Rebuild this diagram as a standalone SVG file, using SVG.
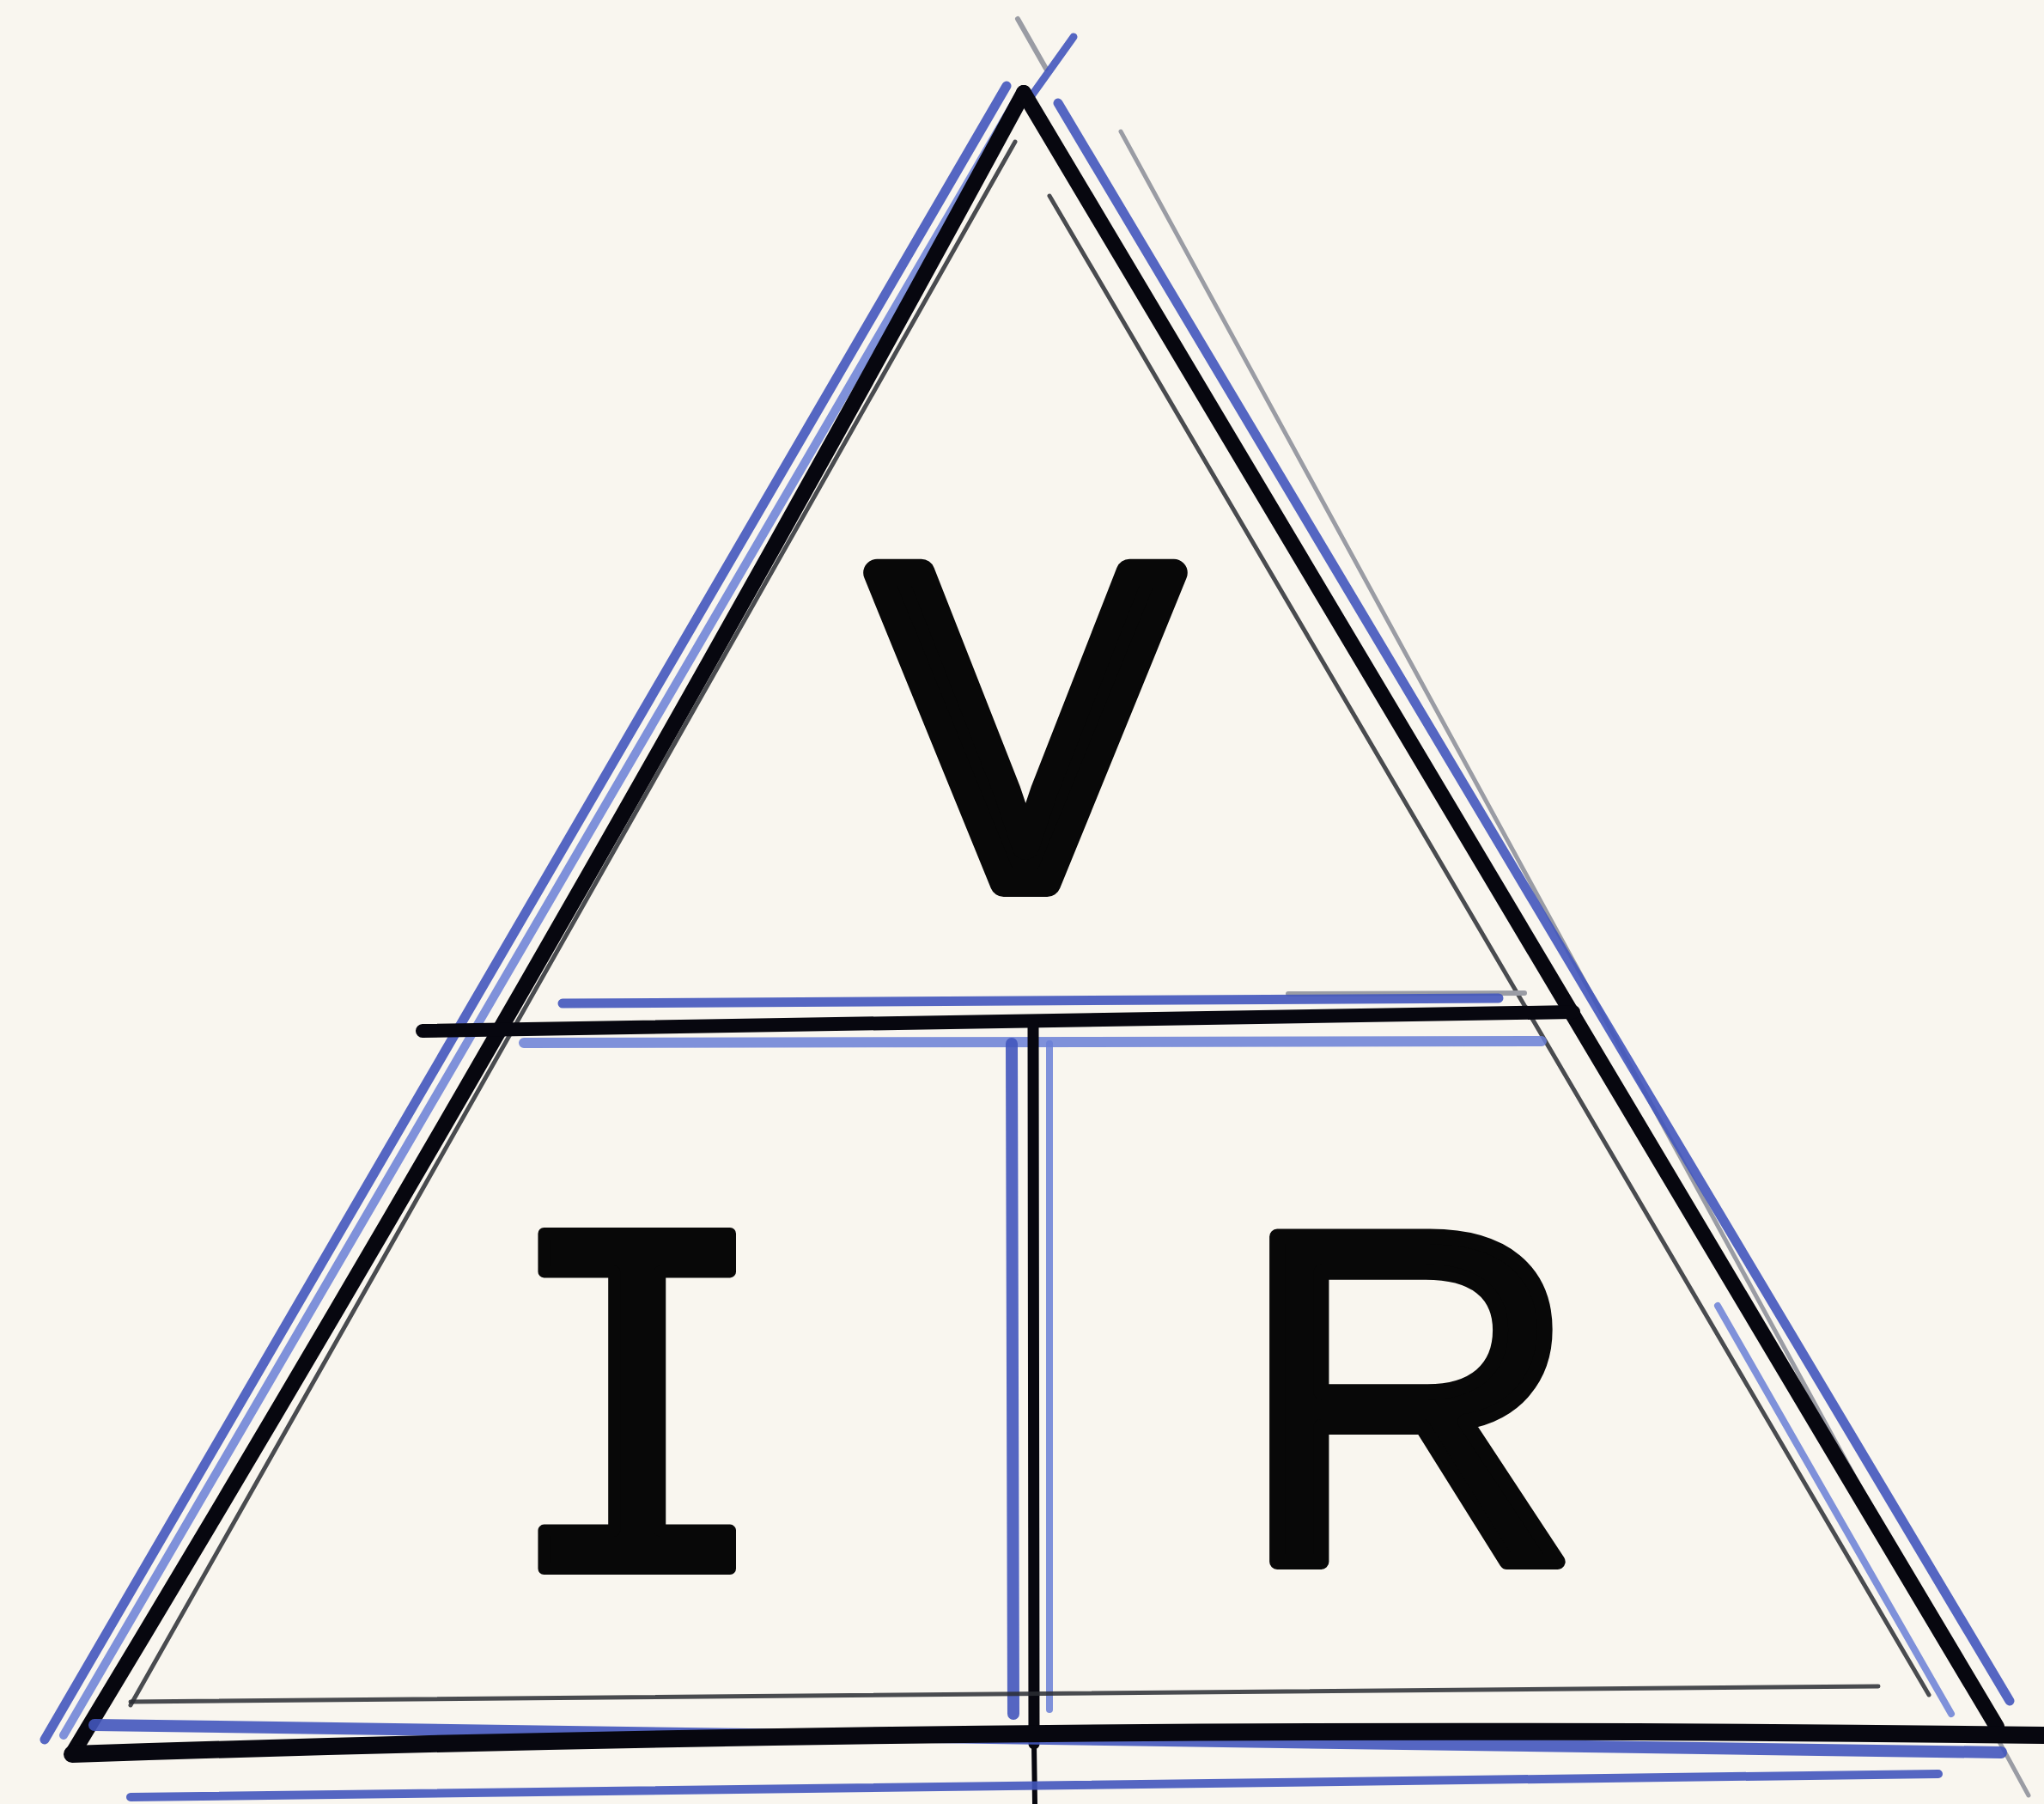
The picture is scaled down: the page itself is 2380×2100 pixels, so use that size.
<svg xmlns="http://www.w3.org/2000/svg" width="2380" height="2100" viewBox="0 0 2380 2100">
<style>
.ink{stroke:#07070f;fill:none;stroke-linecap:round}
.blue{stroke:#4257bd;fill:none;stroke-linecap:round;opacity:0.9}
.blue2{stroke:#6a7fd6;fill:none;stroke-linecap:round;opacity:0.85}
.thin{stroke:#2a2d33;fill:none;stroke-linecap:round;opacity:0.85}
.faint{stroke:#9a9ca4;fill:none;stroke-linecap:round}
.letter{fill:#080808;stroke:#080808;stroke-linejoin:round;stroke-linecap:round}
</style>
<rect width="2380" height="2100" fill="#f9f6ef"/>
<g id="connectors">
  <!-- apex crossing -->
  <line class="faint" x1="1185" y1="22" x2="1218" y2="80" stroke-width="6"/>
  <line class="blue" x1="1250" y1="43" x2="1195" y2="120" stroke-width="9"/>
  <!-- left edge -->
  <line class="blue" x1="1172" y1="100" x2="52" y2="2025" stroke-width="11"/>
  <line class="blue2" x1="1188" y1="108" x2="74" y2="2020" stroke-width="10"/>
  <path class="ink" d="M1192 108 Q668 1075 84 2042" stroke-width="18"/>
  <line class="thin" x1="1182" y1="165" x2="152" y2="1985" stroke-width="5"/>
  <!-- right edge -->
  <line class="faint" x1="1305" y1="153" x2="2362" y2="2090" stroke-width="5"/>
  <line class="blue" x1="1232" y1="120" x2="2340" y2="1980" stroke-width="11"/>
  <line class="ink" x1="1192" y1="108" x2="2325" y2="2010" stroke-width="18"/>
  <line class="blue2" x1="2000" y1="1520" x2="2272" y2="1995" stroke-width="8"/>
  <line class="thin" x1="1222" y1="228" x2="2246" y2="1973" stroke-width="5"/>
  <!-- middle horizontal -->
  <line class="faint" x1="1500" y1="1157" x2="1775" y2="1156" stroke-width="6"/>
  <line class="blue" x1="655" y1="1168" x2="1745" y2="1162" stroke-width="11"/>
  <line class="blue2" x1="610" y1="1214" x2="1795" y2="1212" stroke-width="12"/>
  <line class="ink" x1="492" y1="1200" x2="1832" y2="1178" stroke-width="16"/>
  <!-- vertical divider -->
  <line class="blue" x1="1178" y1="1215" x2="1180" y2="1995" stroke-width="14"/>
  <line class="blue2" x1="1222" y1="1215" x2="1222" y2="1990" stroke-width="8"/>
  <line class="ink" x1="1203" y1="1192" x2="1204" y2="2030" stroke-width="13"/>
  <line class="ink" x1="1204" y1="2030" x2="1205" y2="2100" stroke-width="6"/>
  <!-- bottom edge -->
  <line class="thin" x1="152" y1="1981" x2="2187" y2="1963" stroke-width="5"/>
  <line class="blue" x1="110" y1="2008" x2="2330" y2="2040" stroke-width="14"/>
  <path class="ink" d="M84 2042 Q1200 2005 2380 2020" stroke-width="20"/>
  <line class="blue" x1="152" y1="2092" x2="2257" y2="2065" stroke-width="10"/>
</g>
<g id="node-V">
  <text class="letter" x="1194" y="1028" text-anchor="middle" font-family="'Liberation Sans', Arial, sans-serif" font-size="525" stroke-width="32">V</text>
</g>
<g id="node-I">
  <text class="letter" x="742" y="1826" text-anchor="middle" font-family="'DejaVu Sans Mono', monospace" font-size="535" stroke-width="14">I</text>
</g>
<g id="node-R">
  <text class="letter" x="1442" y="1818" font-family="'Liberation Sans', Arial, sans-serif" font-size="550" stroke-width="18">R</text>
</g>
</svg>
